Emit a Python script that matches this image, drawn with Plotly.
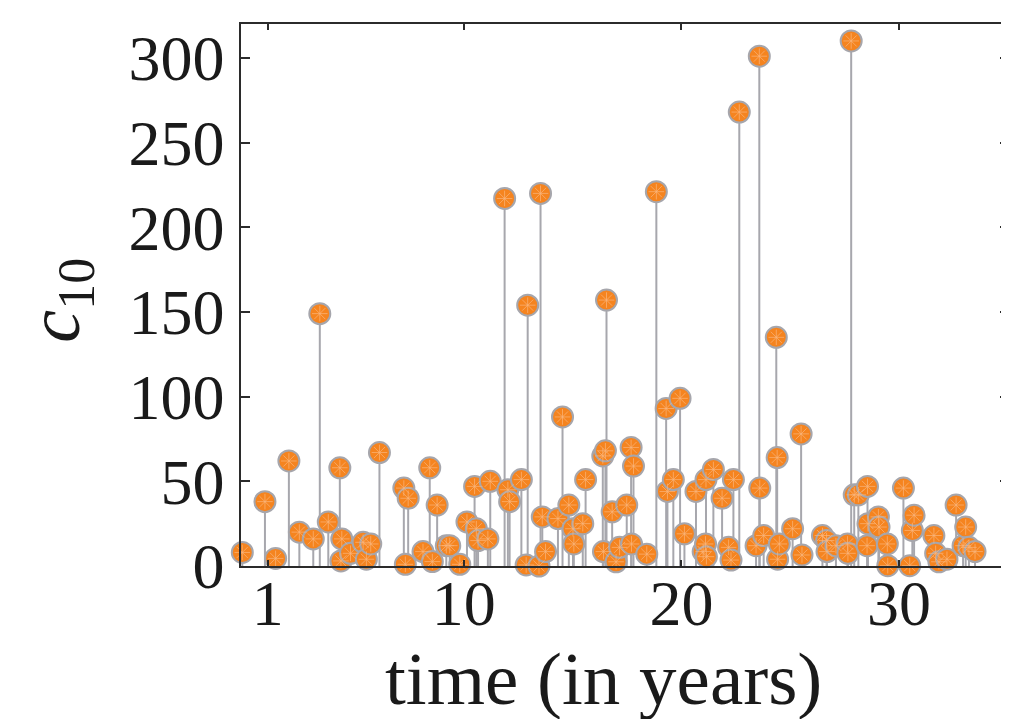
import plotly.graph_objects as go

# ---- data ----
times = [-0.17, 0.87, 1.36, 1.97, 2.45, 3.09, 3.39, 3.78, 4.31, 4.36, 4.40, 4.80, 5.38, 5.53, 5.73,
         6.13, 7.25, 7.32, 7.45, 8.13, 8.44, 8.56, 8.78, 9.20, 9.36, 9.82, 10.15, 10.50, 10.58, 10.66,
         11.11, 11.22, 11.88, 12.03, 12.11, 12.65, 12.87, 12.94, 13.46, 13.53, 13.61, 13.76, 14.33,
         14.54, 14.83, 15.02, 15.06, 15.47, 15.60, 16.39, 16.42, 16.51, 16.56, 16.82, 17.00, 17.16,
         17.49, 17.69, 17.71, 17.80, 18.41, 18.85, 19.30, 19.36, 19.63, 19.94, 20.14, 20.67, 21.00,
         21.13, 21.11, 21.15, 21.47, 21.87, 22.17, 22.28, 22.39, 22.66, 23.43, 23.58, 23.60, 23.78,
         24.36, 24.40, 24.42, 24.50, 25.11, 25.50, 25.54, 26.48, 26.67, 26.69, 27.10, 27.63, 27.65,
         27.80, 27.94, 28.13, 28.55, 28.57, 28.53, 29.05, 29.08, 29.46, 29.48, 30.20, 30.49, 30.61,
         30.69, 31.60, 31.68, 31.83, 32.20, 32.62, 32.94, 33.06, 33.21, 33.49]
values = [8, 38, 4.5, 62, 20, 16, 149, 26, 58, 3, 16, 7.5, 14, 4, 13,
          67, 46, 1, 40, 8.5, 58, 2.6, 36, 12, 12, 1, 26, 47, 22, 15,
          16, 50, 217, 45, 38, 51, 0.6, 154, 0, 220, 29, 8.5, 28,
          88, 36, 22, 13, 25, 51, 65, 8.5, 68, 157, 32, 2.5, 11,
          36, 70, 13, 59, 7, 221, 93, 44, 51, 99, 19, 44, 8.5,
          51, 13, 5.5, 57, 40, 11, 3.5, 51, 268, 12, 301, 46, 18,
          135, 64, 4, 13, 22, 78, 6.5, 18, 15, 8.5, 12, 13, 7.5,
          310, 42, 42, 47, 25, 12, 29, 23, 13, 0.2, 46, 0.2, 21,
          30, 18, 7.5, 2.5, 4, 36, 12, 23, 11, 8.5]
x_ticks = [1, 10, 20, 30]
y_ticks = [0, 50, 100, 150, 200, 250, 300]
x_title = "time (in years)"
y_title = "<i>c</i><sub>10</sub>"

FONT = "Liberation Serif"

stem_x, stem_y = [], []
for t, v in zip(times, values):
    stem_x += [t, t, None]
    stem_y += [0, v, None]

fig = go.Figure()
fig.add_trace(go.Scatter(x=stem_x, y=stem_y, mode="lines",
                         line=dict(color="#A7A7AD", width=2),
                         hoverinfo="skip", showlegend=False))
fig.add_trace(go.Scatter(x=times, y=values, mode="markers",
                         marker=dict(symbol="circle", size=21, color="#F5841F",
                                     line=dict(color="#A6A6AC", width=2)),
                         cliponaxis=False, showlegend=False))
fig.add_trace(go.Scatter(x=times, y=values, mode="markers",
                         marker=dict(symbol="asterisk-open", size=13, color="#F9B67E",
                                     line=dict(color="#F9B67E", width=0.7)),
                         cliponaxis=False, showlegend=False, hoverinfo="skip"))

axis_common = dict(showgrid=False, zeroline=False, showline=True, linecolor="#2b2b2b",
                   linewidth=1.5, mirror="ticks", ticks="inside", tickcolor="#2b2b2b",
                   tickwidth=1.5, automargin=False,
                   tickfont=dict(family=FONT, size=64, color="#1a1a1a"))

fig.update_xaxes(range=[-0.23, 35.05], tickvals=x_ticks, ticktext=[str(v) for v in x_ticks],
                 ticklen=6, ticklabelstandoff=-20, **axis_common)
fig.update_yaxes(range=[0, 320], tickvals=y_ticks, ticktext=[str(v) for v in y_ticks],
                 ticklen=9, ticklabelstandoff=2, **axis_common)

fig.add_annotation(text=x_title, xref="paper", yref="paper", x=0.4715, y=-0.208,
                   showarrow=False, xanchor="center", yanchor="middle",
                   font=dict(family=FONT, size=75, color="#1a1a1a"))
fig.add_annotation(text=y_title, xref="paper", yref="paper", x=-0.236, y=0.491,
                   textangle=-90, showarrow=False, xanchor="center", yanchor="middle",
                   font=dict(family=FONT, size=74, color="#1a1a1a"))

# page body has an 8px margin, so the figure is sized to fit the window
fig.update_layout(width=1001, height=711, margin=dict(l=233, r=0, t=16, b=153),
                  plot_bgcolor="white", paper_bgcolor="white", showlegend=False)

fig.write_html("out.html")
